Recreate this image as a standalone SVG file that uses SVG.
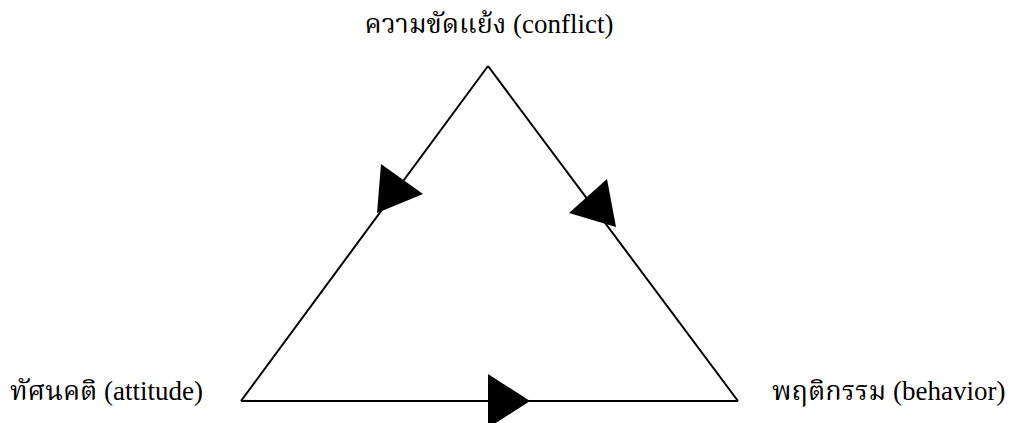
<svg xmlns="http://www.w3.org/2000/svg" width="1016" height="423" viewBox="0 0 1016 423">
<style>
text{font-family:"Liberation Serif","Noto Serif Thai","Noto Sans Thai","DejaVu Serif",serif;font-size:27px;fill:#000}
.edge{stroke:#000;stroke-width:2;fill:none}
.head{fill:#000;stroke:none}
</style>
<rect width="1016" height="423" fill="#fff"/>
<g id="connectors">
<line class="edge" x1="488" y1="66" x2="241" y2="401"/>
<line class="edge" x1="488" y1="66" x2="738" y2="401"/>
<line class="edge" x1="241" y1="401" x2="738" y2="401"/>
<polygon class="head" points="381,164 423,194 377,213"/>
<polygon class="head" points="607,179 569,213 616,227"/>
<polygon class="head" points="488,374 530,401 488,428"/>
</g>
<g id="node-conflict"><text x="489" y="33" text-anchor="middle">ความขัดแย้ง (conflict)</text></g>
<g id="node-attitude"><text x="10" y="400">ทัศนคติ (attitude)</text></g>
<g id="node-behavior"><text x="772" y="400">พฤติกรรม (behavior)</text></g>
</svg>
